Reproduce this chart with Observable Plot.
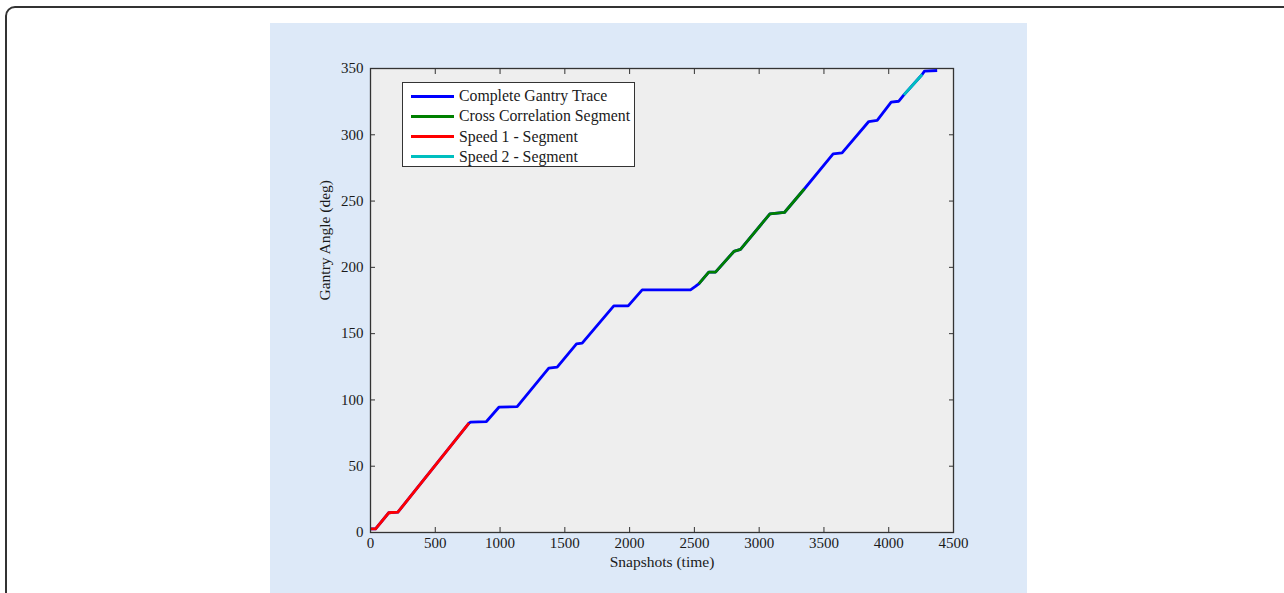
<!DOCTYPE html>
<html>
<head>
<meta charset="utf-8">
<script src="https://cdn.jsdelivr.net/npm/d3@7"></script>
<script src="https://cdn.jsdelivr.net/npm/@observablehq/plot@0.6"></script>
<style>
  html, body { margin: 0; padding: 0; background: #fff; width: 1284px; height: 593px; overflow: hidden; position: relative; }
  #outer { position: absolute; left: 5px; top: 6px; width: 1300px; height: 620px; border: 2px solid #333; border-radius: 10px; box-sizing: border-box; }
  #panel { position: absolute; left: 270px; top: 23px; width: 757px; height: 570px; background: #dde9f8; }
  #chart { position: absolute; left: 0; top: 0; }
  #legend { position: absolute; left: 132px; top: 59px; width: 233px; height: 85px; box-sizing: border-box; border: 1px solid #333; background: #fff; font-family: "Liberation Serif", serif; font-size: 15.8px; color: #1a1a1a; }
  .row { position: absolute; left: 0; height: 20px; }
  .sw { position: absolute; left: 8px; top: 8.5px; width: 43px; height: 3px; }
  .lb { position: absolute; left: 56px; top: 0; white-space: nowrap; line-height: 20px; }
</style>
</head>
<body>
<div id="outer"></div>
<div id="panel"><div id="chart"></div><div id="legend"></div></div>
<script>
// Complete gantry trace vertices (snapshot, angle in deg)
const snapshots = [0, 39, 141, 211, 760, 772, 895, 991, 1132, 1376, 1441, 1590, 1634, 1878, 1989, 2097, 2470, 2508, 2534, 2611, 2663, 2805, 2856, 3083, 3195, 3350, 3571, 3640, 3846, 3911, 4019, 4078, 4117, 4258, 4276, 4374];
const angles    = [2.8, 2.8, 14.9, 15.3, 82.5, 83.2, 83.7, 94.5, 95, 124, 124.7, 142.3, 142.8, 171, 171, 183, 183, 185.6, 187.6, 196.4, 196.4, 212, 213.5, 240.4, 241.4, 259.3, 285.6, 286.4, 310, 310.8, 324.6, 325.3, 330.1, 345.5, 348, 348.5];

// Segments (start snapshot, end snapshot)
const segmentNames  = ["Complete Gantry Trace", "Cross Correlation Segment", "Speed 1 - Segment", "Speed 2 - Segment"];
const segmentColors = ["#0000ff", "#008000", "#ff0000", "#00bfbf"];
const segmentStart  = [0, 2534, 0, 4117];
const segmentEnd    = [4374, 3350, 760, 4258];

const xTicks = [0, 500, 1000, 1500, 2000, 2500, 3000, 3500, 4000, 4500];
const yTicks = [0, 50, 100, 150, 200, 250, 300, 350];
const xLabel = "Snapshots (time)";
const yLabel = "Gantry Angle (deg)";

const trace = snapshots.map((s, i) => ({s, a: angles[i]}));
const lines = [0, 1, 2, 3].map(k => Plot.line(
  trace.filter(d => d.s >= segmentStart[k] && d.s <= segmentEnd[k]),
  {x: "s", y: "a", stroke: segmentColors[k], strokeWidth: 2.8, strokeLinejoin: "round", strokeLinecap: "butt"}
));

const ink = "#1a1a1a";
const fmt = d => String(d);
const chart = Plot.plot({
  width: 757, height: 570,
  marginLeft: 100, marginRight: 74, marginTop: 45, marginBottom: 61,
  style: {fontFamily: "Liberation Serif, serif", fontSize: "15px", background: "transparent", color: ink},
  x: {domain: [0, 4500]},
  y: {domain: [0, 350]},
  marks: [
    Plot.frame({fill: "#eeeeee", stroke: null}),
    ...lines,
    Plot.axisX(xTicks, {anchor: "bottom", tickSize: -5, tickFormat: () => "", label: null, stroke: "#333"}),
    Plot.axisX(xTicks, {anchor: "top", tickSize: -5, tickFormat: () => "", label: null, stroke: "#333"}),
    Plot.axisY(yTicks, {anchor: "left", tickSize: -5, tickFormat: () => "", label: null, stroke: "#333"}),
    Plot.axisY(yTicks, {anchor: "right", tickSize: -5, tickFormat: () => "", label: null, stroke: "#333"}),
    Plot.axisX(xTicks, {anchor: "bottom", tickSize: 0, tickPadding: 5, fontSize: 15, tickFormat: fmt, label: null, fill: ink}),
    Plot.axisY(yTicks, {anchor: "left", tickSize: 0, tickPadding: 7, fontSize: 15, tickFormat: fmt, label: null, fill: ink}),
    Plot.frame({stroke: "#333", strokeWidth: 1.3}),
    Plot.text([xLabel], {frameAnchor: "bottom", dy: 34, text: d => d, fontSize: 15.5, fill: ink}),
    Plot.text([yLabel], {frameAnchor: "left", dx: -45, rotate: -90, text: d => d, fontSize: 15.5, fill: ink})
  ]
});
document.getElementById("chart").appendChild(chart);

const legend = document.getElementById("legend");
segmentNames.forEach((name, k) => {
  const row = document.createElement("div");
  row.className = "row";
  row.style.top = (3 + k * 20.3) + "px";
  row.innerHTML = `<div class="sw" style="background:${segmentColors[k]}"></div><div class="lb">${name}</div>`;
  legend.appendChild(row);
});
</script>
</body>
</html>
